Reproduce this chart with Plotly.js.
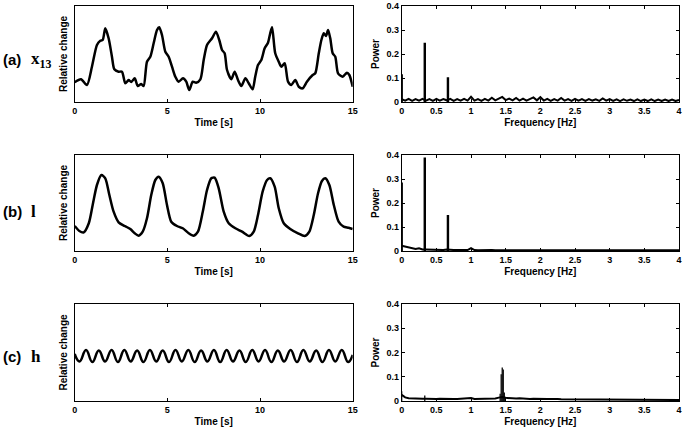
<!DOCTYPE html>
<html>
<head>
<meta charset="utf-8">
<script src="https://cdn.plot.ly/plotly-3.0.1.min.js"></script>
<style>html,body{margin:0;padding:0;background:#fff;}#chart{width:685px;height:431px;}</style>
</head>
<body>
<div id="chart"></div>
<script>
// ---- Time series (relative change, arbitrary units) ----
const timeA = [0,0.34,0.66,0.93,1.20,1.38,1.51,1.65,1.83,2.01,2.14,2.37,2.55,2.73,2.91,3.05,3.24,3.40,3.59,3.72,3.90,4.08,4.26,4.44,4.56,4.71,4.89,5.07,5.25,5.43,5.61,5.84,6.02,6.18,6.37,6.55,6.78,6.96,7.14,7.41,7.62,7.80,7.95,8.09,8.22,8.45,8.63,8.81,8.99,9.21,9.39,9.60,9.74,9.89,10.07,10.25,10.43,10.55,10.65,10.82,11.01,11.15,11.33,11.51,11.69,11.90,12.09,12.30,12.53,12.84,12.98,13.17,13.31,13.44,13.56,13.67,13.79,13.92,14.06,14.21,14.46,14.69,14.82,15.00];
const valueA = [19.7,22.7,17,35.3,57,61.3,62,73.7,63.7,45.3,32.7,30.3,30.3,18.7,22,20,23.7,16,18,16,40.3,45.3,58.7,72,74.7,67,50.3,45.3,35.3,25.3,20.3,23.7,20.3,12,20.3,19.3,22.7,42,57,63.7,70.3,62,52,48.7,32,22.7,30.3,22,16,23.7,18.7,12.7,25.3,37,42,53.7,59.3,68.7,74.7,48.7,40.3,35.3,38.7,20.3,17,22,15.3,13.7,20.3,27,28.7,48.7,62,68.7,66,72,63.7,48.7,45.3,28.7,25.3,29.3,27,15.3];

const timeB = [0,0.25,0.49,0.76,0.97,1.20,1.44,1.65,1.87,2.10,2.37,2.70,3.00,3.24,3.45,3.67,3.90,4.13,4.35,4.53,4.75,4.98,5.21,5.52,5.83,6.15,6.42,6.65,6.91,7.14,7.37,7.55,7.77,8.04,8.31,8.67,9.03,9.42,9.66,9.89,10.14,10.38,10.55,10.79,11.01,11.28,11.63,12.05,12.41,12.66,12.90,13.13,13.34,13.52,13.74,13.98,14.24,14.51,14.78,15.00];
const valueB = [25,20,18.7,27.7,46,66,76,72.7,56,39.3,28.7,25,22,17.7,15.3,19.3,32.7,56,71,74.3,67.7,46,29.3,25,22.7,17.7,15.3,19.3,39.3,61,72.7,73.3,62.7,39.3,27.7,22.7,19.3,15,19.3,36,59.3,71,72.7,64.3,42.7,27.7,22,17.7,15,19.3,36,57.7,70,72.7,66,46,29.3,24.3,23.3,22];

const timeC = [0,0.26,0.61,0.95,1.30,1.64,1.99,2.33,2.68,3.02,3.37,3.71,4.06,4.40,4.75,5.09,5.44,5.78,6.13,6.47,6.82,7.16,7.51,7.85,8.20,8.54,8.89,9.23,9.58,9.92,10.27,10.61,10.96,11.30,11.65,11.99,12.34,12.68,13.03,13.37,13.72,14.06,14.41,14.75,15.00];
const valueC = [47,39.5,51,39,50.5,39.5,51,39,51,39.5,50.5,39,51,39.5,50.5,39,51,39.5,51,39,50.5,39.5,51,39,51,39.5,50.5,39,51,39.5,51,39,50.5,39.5,51,39,51,39.5,50.5,39,51,39.5,51,39,46];

// ---- Power spectra ----
const freqGrid = [0,0.05,0.10,0.15,0.20,0.25,0.30,0.35,0.40,0.45,0.50,0.55,0.60,0.65,0.70,0.75,0.80,0.85,0.90,0.95,1.00,1.05,1.10,1.15,1.20,1.25,1.30,1.35,1.40,1.45,1.50,1.55,1.60,1.65,1.70,1.75,1.80,1.85,1.90,1.95,2.00,2.05,2.10,2.15,2.20,2.25,2.30,2.35,2.40,2.45,2.50,2.55,2.60,2.65,2.70,2.75,2.80,2.85,2.90,2.95,3.00,3.05,3.10,3.15,3.20,3.25,3.30,3.35,3.40,3.45,3.50,3.55,3.60,3.65,3.70,3.75,3.80,3.85,3.90,3.95,4.00];
const powerA = [0.012,0.006,0.013,0.005,0.012,0.006,0.013,0.006,0.012,0.005,0.013,0.006,0.012,0.007,0.013,0.005,0.012,0.006,0.013,0.006,0.022,0.006,0.012,0.005,0.013,0.006,0.018,0.007,0.014,0.021,0.008,0.014,0.007,0.017,0.006,0.014,0.006,0.013,0.019,0.007,0.020,0.006,0.013,0.005,0.012,0.006,0.017,0.006,0.012,0.005,0.013,0.006,0.012,0.005,0.012,0.006,0.011,0.005,0.015,0.006,0.012,0.005,0.011,0.004,0.011,0.005,0.010,0.004,0.011,0.004,0.010,0.004,0.011,0.004,0.010,0.004,0.010,0.004,0.010,0.004,0.009];
const powerB = [0.022,0.018,0.013,0.010,0.008,0.011,0.006,0.006,0.005,0.005,0.004,0.005,0.004,0.006,0.004,0.004,0.004,0.004,0.004,0.004,0.012,0.004,0.003,0.004,0.003,0.003,0.004,0.003,0.003,0.004,0.003,0.003,0.003,0.004,0.003,0.003,0.003,0.003,0.004,0.003,0.003,0.003,0.003,0.003,0.004,0.003,0.003,0.003,0.003,0.003,0.003,0.003,0.003,0.003,0.003,0.003,0.003,0.003,0.003,0.003,0.003,0.003,0.003,0.003,0.003,0.003,0.003,0.003,0.003,0.003,0.003,0.003,0.003,0.003,0.003,0.003,0.003,0.003,0.003,0.003,0.003];
const powerC = [0.025,0.015,0.011,0.010,0.009,0.008,0.009,0.009,0.008,0.009,0.008,0.009,0.008,0.008,0.009,0.008,0.008,0.009,0.008,0.008,0.012,0.008,0.008,0.009,0.008,0.009,0.009,0.010,0.014,0.016,0.013,0.011,0.010,0.010,0.011,0.009,0.009,0.008,0.009,0.008,0.008,0.008,0.008,0.008,0.009,0.008,0.007,0.007,0.007,0.007,0.007,0.006,0.006,0.006,0.006,0.006,0.006,0.006,0.007,0.005,0.005,0.005,0.005,0.005,0.005,0.005,0.005,0.005,0.005,0.004,0.004,0.004,0.004,0.004,0.004,0.004,0.004,0.004,0.004,0.004,0.004];

const spikeFreqA = [0,0.333,0.667];
const spikePowA  = [0.116,0.247,0.103];
const spikeFreqB = [0,0.333,0.667];
const spikePowB  = [0.285,0.39,0.15];
const spikeFreqC = [0,0.333,1.42,1.435,1.45,1.465,1.48];
const spikePowC  = [0.04,0.023,0.03,0.11,0.138,0.13,0.035];

const timeTicks = [0,5,10,15];
const freqTicks = [0,0.5,1,1.5,2,2.5,3,3.5,4];
const powerTicks = [0,0.1,0.2,0.3,0.4];
const rowLabels = ['(a)','(b)','(c)'];
const rowSymbols = ['x<sub>13</sub>','l','h'];

// ---- layout helpers ----
const W = 685, H = 431;
const fontSans = 'Liberation Sans, Arial, sans-serif';
const tickFont = {family: fontSans, size: 9, color: '#000', weight: 'bold'};
const titleFont = {family: fontSans, size: 10, color: '#000', weight: 'bold'};

function px2x(p){ return p / W; }
function px2y(p){ return 1 - p / H; }

const leftDom = [px2x(74.7), px2x(352.7)];
const rightDom = [px2x(401.7), px2x(679)];
const rowsPx = [[6,102],[155,251],[304,401]];
const smooth = [0.7, 0.7, 1.3];

function baseAxis(extra){
  return Object.assign({
    showline: true, mirror: 'allticks', linecolor: '#000', linewidth: 1,
    ticks: 'inside', ticklen: 3, tickcolor: '#000', tickwidth: 1,
    showgrid: false, zeroline: false, tickfont: tickFont, fixedrange: true
  }, extra);
}

const layout = {
  width: W, height: H,
  margin: {l: 0, r: 0, t: 0, b: 0},
  paper_bgcolor: '#fff', plot_bgcolor: '#fff',
  showlegend: false, barmode: 'overlay',
  annotations: []
};

const seriesT = [timeA, timeB, timeC];
const seriesV = [valueA, valueB, valueC];
const powers = [powerA, powerB, powerC];
const spF = [spikeFreqA, spikeFreqB, spikeFreqC];
const spP = [spikePowA, spikePowB, spikePowC];
const spW = [0.035, 0.035, 0.018];
const traces = [];

for (let r = 0; r < 3; r++) {
  const yDom = [px2y(rowsPx[r][1]), px2y(rowsPx[r][0])];
  const li = 2*r + 1, ri = 2*r + 2;
  const lx = 'xaxis' + (li === 1 ? '' : li), ly = 'yaxis' + (li === 1 ? '' : li);
  const rx = 'xaxis' + ri, ry = 'yaxis' + ri;
  const lxr = 'x' + (li === 1 ? '' : li), lyr = 'y' + (li === 1 ? '' : li);

  layout[lx] = baseAxis({domain: leftDom, anchor: lyr, range: [0, 15], tickvals: timeTicks,
    title: {text: 'Time [s]', font: titleFont, standoff: 4}});
  layout[ly] = baseAxis({domain: yDom, anchor: lxr, range: [0, rowsPx[r][1]-rowsPx[r][0]],
    ticks: '', showticklabels: false,
    title: {text: 'Relative change', font: titleFont, standoff: 4}});
  layout[rx] = baseAxis({domain: rightDom, anchor: 'y' + ri, range: [0, 4], tickvals: freqTicks,
    ticktext: freqTicks.map(String),
    title: {text: 'Frequency [Hz]', font: titleFont, standoff: 4}});
  layout[ry] = baseAxis({domain: yDom, anchor: 'x' + ri, range: [0, 0.4], tickvals: powerTicks,
    ticktext: powerTicks.map(String),
    title: {text: 'Power', font: titleFont, standoff: 4}});

  traces.push({type: 'scatter', mode: 'lines', x: seriesT[r], y: seriesV[r], xaxis: lxr, yaxis: lyr,
    line: {color: '#000', width: 2.5, shape: 'spline', smoothing: smooth[r]}, hoverinfo: 'skip'});
  traces.push({type: 'bar', x: spF[r], y: spP[r], width: spW[r], xaxis: 'x' + ri, yaxis: 'y' + ri,
    marker: {color: '#000', line: {width: 0}}, hoverinfo: 'skip'});
  traces.push({type: 'scatter', mode: 'lines', x: freqGrid, y: powers[r], xaxis: 'x' + ri, yaxis: 'y' + ri,
    line: {color: '#000', width: 2}, hoverinfo: 'skip'});

  const labY = px2y([60, 211.7, 356][r]);
  layout.annotations.push({xref: 'paper', yref: 'paper', x: px2x(1), y: labY, xanchor: 'left', yanchor: 'middle',
    showarrow: false, text: rowLabels[r], font: {family: fontSans, size: 15, color: '#000', weight: 'bold'}});
  layout.annotations.push({xref: 'paper', yref: 'paper', x: px2x(29), y: labY, xanchor: 'left', yanchor: 'middle',
    showarrow: false, text: rowSymbols[r], font: {family: 'Liberation Serif, Times New Roman, serif', size: 17, color: '#000', weight: 'bold'}});
}

Plotly.newPlot('chart', traces, layout, {staticPlot: true, displayModeBar: false});
</script>
</body>
</html>
